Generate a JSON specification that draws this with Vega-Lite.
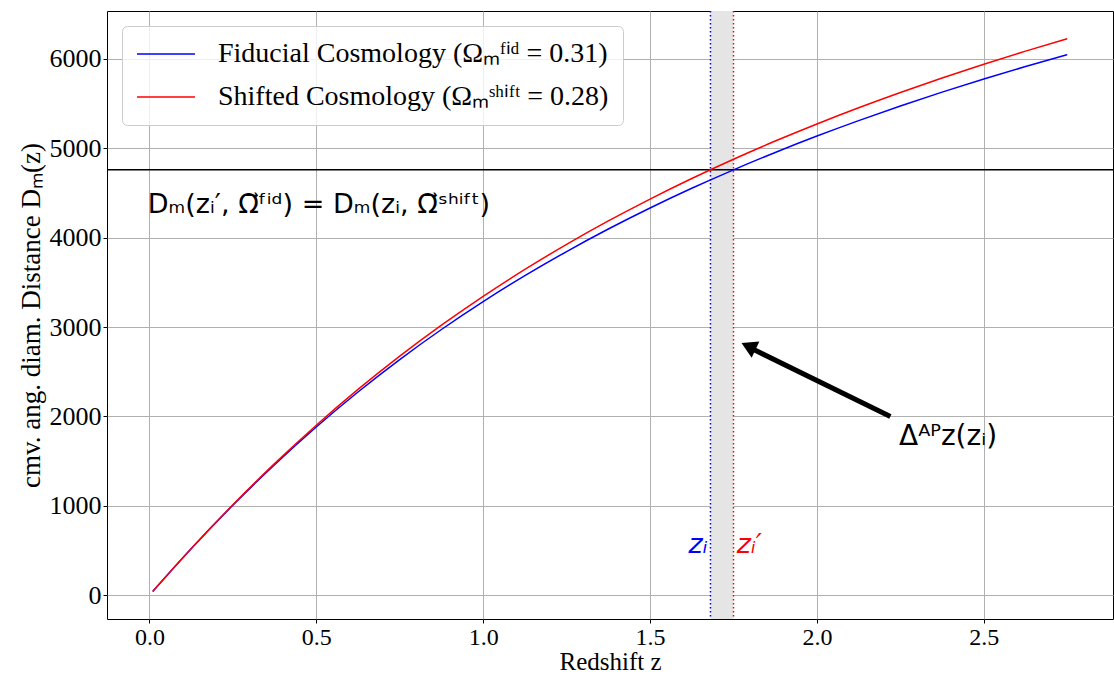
{
  "$schema": "https://vega.github.io/schema/vega-lite/v6.json",
  "width": 1006,
  "height": 608,
  "autosize": {"type": "none"},
  "padding": {"left": 107, "top": 11, "right": 1, "bottom": 56},
  "background": "white",
  "config": {
    "view": {"stroke": "black", "strokeWidth": 1},
    "axis": {
      "gridColor": "#b0b0b0", "gridWidth": 1, "domain": false,
      "tickColor": "black", "tickSize": 4, "tickWidth": 1,
      "labelFont": "Liberation Serif", "labelFontSize": 26, "labelColor": "black", "labelPadding": 2,
      "titleFont": "Liberation Serif", "titleFontSize": 27, "titleFontWeight": "normal", "titleColor": "black"
    },
    "legend": {
      "orient": "top-left", "offset": 15,
      "fillColor": "rgba(255,255,255,0.8)", "strokeColor": "#cccccc", "cornerRadius": 5,
      "padding": 14, "symbolType": "stroke", "symbolSize": 3364, "symbolStrokeWidth": 1.5,
      "labelFont": "Liberation Serif", "labelFontSize": 28, "labelColor": "black", "labelOffset": 22,
      "rowPadding": 15, "clipHeight": 28, "labelLimit": 600
    }
  },
  "datasets": {
    "curves": [
      {"z": 0.01, "D": 42.7, "cosmology": "Fiducial Cosmology (Ωₘᶠⁱᵈ = 0.31)"},
      {"z": 0.125, "D": 519.4, "cosmology": "Fiducial Cosmology (Ωₘᶠⁱᵈ = 0.31)"},
      {"z": 0.25, "D": 1006.3, "cosmology": "Fiducial Cosmology (Ωₘᶠⁱᵈ = 0.31)"},
      {"z": 0.375, "D": 1460.2, "cosmology": "Fiducial Cosmology (Ωₘᶠⁱᵈ = 0.31)"},
      {"z": 0.5, "D": 1882.1, "cosmology": "Fiducial Cosmology (Ωₘᶠⁱᵈ = 0.31)"},
      {"z": 0.625, "D": 2273.4, "cosmology": "Fiducial Cosmology (Ωₘᶠⁱᵈ = 0.31)"},
      {"z": 0.75, "D": 2636.1, "cosmology": "Fiducial Cosmology (Ωₘᶠⁱᵈ = 0.31)"},
      {"z": 0.875, "D": 2972.4, "cosmology": "Fiducial Cosmology (Ωₘᶠⁱᵈ = 0.31)"},
      {"z": 1.0, "D": 3284.5, "cosmology": "Fiducial Cosmology (Ωₘᶠⁱᵈ = 0.31)"},
      {"z": 1.125, "D": 3574.4, "cosmology": "Fiducial Cosmology (Ωₘᶠⁱᵈ = 0.31)"},
      {"z": 1.25, "D": 3844.4, "cosmology": "Fiducial Cosmology (Ωₘᶠⁱᵈ = 0.31)"},
      {"z": 1.375, "D": 4096.1, "cosmology": "Fiducial Cosmology (Ωₘᶠⁱᵈ = 0.31)"},
      {"z": 1.5, "D": 4331.5, "cosmology": "Fiducial Cosmology (Ωₘᶠⁱᵈ = 0.31)"},
      {"z": 1.625, "D": 4551.8, "cosmology": "Fiducial Cosmology (Ωₘᶠⁱᵈ = 0.31)"},
      {"z": 1.75, "D": 4758.5, "cosmology": "Fiducial Cosmology (Ωₘᶠⁱᵈ = 0.31)"},
      {"z": 1.875, "D": 4952.9, "cosmology": "Fiducial Cosmology (Ωₘᶠⁱᵈ = 0.31)"},
      {"z": 2.0, "D": 5136.1, "cosmology": "Fiducial Cosmology (Ωₘᶠⁱᵈ = 0.31)"},
      {"z": 2.125, "D": 5308.9, "cosmology": "Fiducial Cosmology (Ωₘᶠⁱᵈ = 0.31)"},
      {"z": 2.25, "D": 5472.4, "cosmology": "Fiducial Cosmology (Ωₘᶠⁱᵈ = 0.31)"},
      {"z": 2.375, "D": 5627.3, "cosmology": "Fiducial Cosmology (Ωₘᶠⁱᵈ = 0.31)"},
      {"z": 2.5, "D": 5774.2, "cosmology": "Fiducial Cosmology (Ωₘᶠⁱᵈ = 0.31)"},
      {"z": 2.625, "D": 5913.8, "cosmology": "Fiducial Cosmology (Ωₘᶠⁱᵈ = 0.31)"},
      {"z": 2.75, "D": 6046.7, "cosmology": "Fiducial Cosmology (Ωₘᶠⁱᵈ = 0.31)"},
      {"z": 0.01, "D": 42.7, "cosmology": "Shifted Cosmology (Ωₘˢʰⁱᶠᵗ = 0.28)"},
      {"z": 0.125, "D": 520.9, "cosmology": "Shifted Cosmology (Ωₘˢʰⁱᶠᵗ = 0.28)"},
      {"z": 0.25, "D": 1011.9, "cosmology": "Shifted Cosmology (Ωₘˢʰⁱᶠᵗ = 0.28)"},
      {"z": 0.375, "D": 1472.1, "cosmology": "Shifted Cosmology (Ωₘˢʰⁱᶠᵗ = 0.28)"},
      {"z": 0.5, "D": 1901.9, "cosmology": "Shifted Cosmology (Ωₘˢʰⁱᶠᵗ = 0.28)"},
      {"z": 0.625, "D": 2302.3, "cosmology": "Shifted Cosmology (Ωₘˢʰⁱᶠᵗ = 0.28)"},
      {"z": 0.75, "D": 2674.9, "cosmology": "Shifted Cosmology (Ωₘˢʰⁱᶠᵗ = 0.28)"},
      {"z": 0.875, "D": 3021.5, "cosmology": "Shifted Cosmology (Ωₘˢʰⁱᶠᵗ = 0.28)"},
      {"z": 1.0, "D": 3344.0, "cosmology": "Shifted Cosmology (Ωₘˢʰⁱᶠᵗ = 0.28)"},
      {"z": 1.125, "D": 3644.4, "cosmology": "Shifted Cosmology (Ωₘˢʰⁱᶠᵗ = 0.28)"},
      {"z": 1.25, "D": 3924.6, "cosmology": "Shifted Cosmology (Ωₘˢʰⁱᶠᵗ = 0.28)"},
      {"z": 1.375, "D": 4186.5, "cosmology": "Shifted Cosmology (Ωₘˢʰⁱᶠᵗ = 0.28)"},
      {"z": 1.5, "D": 4431.5, "cosmology": "Shifted Cosmology (Ωₘˢʰⁱᶠᵗ = 0.28)"},
      {"z": 1.625, "D": 4661.3, "cosmology": "Shifted Cosmology (Ωₘˢʰⁱᶠᵗ = 0.28)"},
      {"z": 1.75, "D": 4877.1, "cosmology": "Shifted Cosmology (Ωₘˢʰⁱᶠᵗ = 0.28)"},
      {"z": 1.875, "D": 5080.2, "cosmology": "Shifted Cosmology (Ωₘˢʰⁱᶠᵗ = 0.28)"},
      {"z": 2.0, "D": 5271.7, "cosmology": "Shifted Cosmology (Ωₘˢʰⁱᶠᵗ = 0.28)"},
      {"z": 2.125, "D": 5452.6, "cosmology": "Shifted Cosmology (Ωₘˢʰⁱᶠᵗ = 0.28)"},
      {"z": 2.25, "D": 5623.8, "cosmology": "Shifted Cosmology (Ωₘˢʰⁱᶠᵗ = 0.28)"},
      {"z": 2.375, "D": 5786.0, "cosmology": "Shifted Cosmology (Ωₘˢʰⁱᶠᵗ = 0.28)"},
      {"z": 2.5, "D": 5940.0, "cosmology": "Shifted Cosmology (Ωₘˢʰⁱᶠᵗ = 0.28)"},
      {"z": 2.625, "D": 6086.4, "cosmology": "Shifted Cosmology (Ωₘˢʰⁱᶠᵗ = 0.28)"},
      {"z": 2.75, "D": 6225.8, "cosmology": "Shifted Cosmology (Ωₘˢʰⁱᶠᵗ = 0.28)"}
    ]
  },
  "layer": [
    {
      "data": {"values": [{"z_i": 1.681, "z_i_prime": 1.75}]},
      "mark": {"type": "rect", "color": "#e5e5e5"},
      "encoding": {
        "x": {"field": "z_i", "type": "quantitative",
              "scale": {"domain": [-0.127, 2.887], "nice": false, "zero": false},
              "axis": {"values": [0, 0.5, 1, 1.5, 2, 2.5], "format": ".1f", "title": "Redshift  z", "grid": true,
                       "labelFontSize": 24, "titleFontSize": 25,
                       "titleBaseline": "bottom", "titleY": 55.5}},
        "x2": {"field": "z_i_prime"}
      }
    },
    {
      "data": {"values": [{"D": 4758.5}]},
      "mark": {"type": "rule", "color": "black", "strokeWidth": 1.5},
      "encoding": {"y": {"field": "D", "type": "quantitative"}}
    },
    {
      "data": {"values": [{"z": 1.681}]},
      "mark": {"type": "rule", "color": "#0000ff", "strokeWidth": 1.5, "strokeDash": [1.5, 2.5]},
      "encoding": {"x": {"field": "z", "type": "quantitative"}}
    },
    {
      "data": {"values": [{"z": 1.75}]},
      "mark": {"type": "rule", "color": "#ff0000", "strokeWidth": 1.5, "strokeDash": [1.5, 2.5]},
      "encoding": {"x": {"field": "z", "type": "quantitative"}}
    },
    {
      "data": {"name": "curves"},
      "mark": {"type": "line", "strokeWidth": 1.5, "interpolate": "monotone"},
      "encoding": {
        "x": {"field": "z", "type": "quantitative"},
        "y": {"field": "D", "type": "quantitative",
              "scale": {"domain": [-266, 6535], "nice": false, "zero": false},
              "axis": {"values": [0, 1000, 2000, 3000, 4000, 5000, 6000], "format": "d", "title": "cmv. ang. diam. Distance  Dₘ(z)", "grid": true}},
        "color": {"field": "cosmology", "type": "nominal",
                  "scale": {"domain": ["Fiducial Cosmology (Ωₘᶠⁱᵈ = 0.31)", "Shifted Cosmology (Ωₘˢʰⁱᶠᵗ = 0.28)"], "range": ["#0000ff", "#ff0000"]},
                  "legend": {"title": null}}
      }
    },
    {
      "data": {"values": [{"z": -0.005, "D": 4370, "label": "Dₘ(zᵢ′, Ω⃗ᶠⁱᵈ) = Dₘ(zᵢ, Ω⃗ˢʰⁱᶠᵗ)"}]},
      "mark": {"type": "text", "font": "DejaVu Sans", "fontSize": 27, "align": "left", "baseline": "middle", "color": "black"},
      "encoding": {"x": {"field": "z", "type": "quantitative"}, "y": {"field": "D", "type": "quantitative"}, "text": {"field": "label"}}
    },
    {
      "data": {"values": [{"z": 2.246, "D": 1770, "label": "Δᴬᴾz(zᵢ)"}]},
      "mark": {"type": "text", "font": "DejaVu Sans", "fontSize": 28, "align": "left", "baseline": "middle", "color": "black"},
      "encoding": {"x": {"field": "z", "type": "quantitative"}, "y": {"field": "D", "type": "quantitative"}, "text": {"field": "label"}}
    },
    {
      "data": {"values": [{"z": 1.672, "D": 560, "label": "zᵢ"}]},
      "mark": {"type": "text", "font": "DejaVu Sans", "fontStyle": "italic", "fontSize": 27, "align": "right", "baseline": "middle", "color": "#0000ff"},
      "encoding": {"x": {"field": "z", "type": "quantitative"}, "y": {"field": "D", "type": "quantitative"}, "text": {"field": "label"}}
    },
    {
      "data": {"values": [{"z": 1.76, "D": 560, "label": "zᵢ′"}]},
      "mark": {"type": "text", "font": "DejaVu Sans", "fontStyle": "italic", "fontSize": 27, "align": "left", "baseline": "middle", "color": "#ff0000"},
      "encoding": {"x": {"field": "z", "type": "quantitative"}, "y": {"field": "D", "type": "quantitative"}, "text": {"field": "label"}}
    },
    {
      "data": {"values": [{"z1": 2.22, "D1": 1998, "z2": 1.812, "D2": 2745}]},
      "mark": {"type": "rule", "color": "black", "strokeWidth": 5},
      "encoding": {
        "x": {"field": "z1", "type": "quantitative"}, "y": {"field": "D1", "type": "quantitative"},
        "x2": {"field": "z2"}, "y2": {"field": "D2"}
      }
    },
    {
      "data": {"values": [{"z": 1.795, "D": 2785}]},
      "mark": {"type": "point", "shape": "triangle-up", "filled": true, "color": "black", "opacity": 1, "size": 320, "angle": 295.5},
      "encoding": {"x": {"field": "z", "type": "quantitative"}, "y": {"field": "D", "type": "quantitative"}}
    }
  ]
}
